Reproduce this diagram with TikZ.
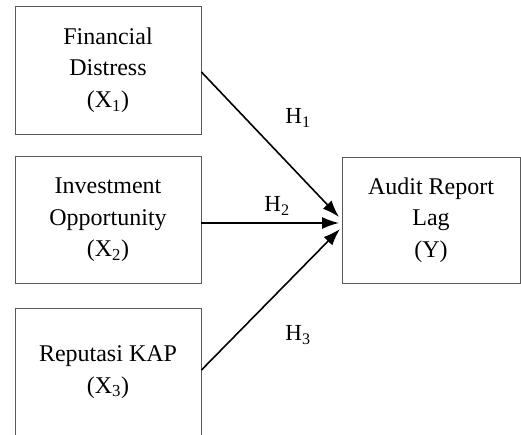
\documentclass[tikz,border=0pt]{standalone}
\usepackage{fontspec}
\setmainfont{Liberation Serif}
\usetikzlibrary{arrows.meta}
\tikzset{
  varbox/.style={draw=black!65, line width=0.9pt, minimum width=186pt,
    align=center, font=\fontsize{24}{31.5}\selectfont},
  hyp/.style={font=\fontsize{23}{26}\selectfont},
  link/.style={line width=1.6pt, -{Latex[length=17pt,width=12pt]}}
}
\begin{document}
\begin{tikzpicture}[x=1pt,y=-1pt]
    \useasboundingbox (0,0) rectangle (521,434);
    \node[varbox, minimum height=128pt] (X1) at (108,70) {Financial\\Distress\\(X\textsubscript{1})};
    \node[varbox, minimum height=127pt] (X2) at (108,220) {Investment\\Opportunity\\(X\textsubscript{2})};
    \node[varbox, minimum height=128pt] (X3) at (108,372) {Reputasi KAP\\(X\textsubscript{3})};
    \node[varbox, minimum width=178pt, minimum height=126pt] (Y) at (431,220) {Audit Report\\Lag\\(Y)};
    \coordinate (T1) at (339,217);
    \coordinate (T2) at (339,223);
    \coordinate (T3) at (340,229);
    \draw[link] (X1.east |- 0,72) -- (T1);
    \draw[link] (X2.east |- T2) -- (T2);
    \draw[link] (X3.east |- 0,370) -- (T3);
    \node[hyp] (H1) at (298,118) {H\textsubscript{1}};
    \node[hyp] (H2) at (277,206) {H\textsubscript{2}};
    \node[hyp] (H3) at (298,335) {H\textsubscript{3}};
\end{tikzpicture}
\end{document}
